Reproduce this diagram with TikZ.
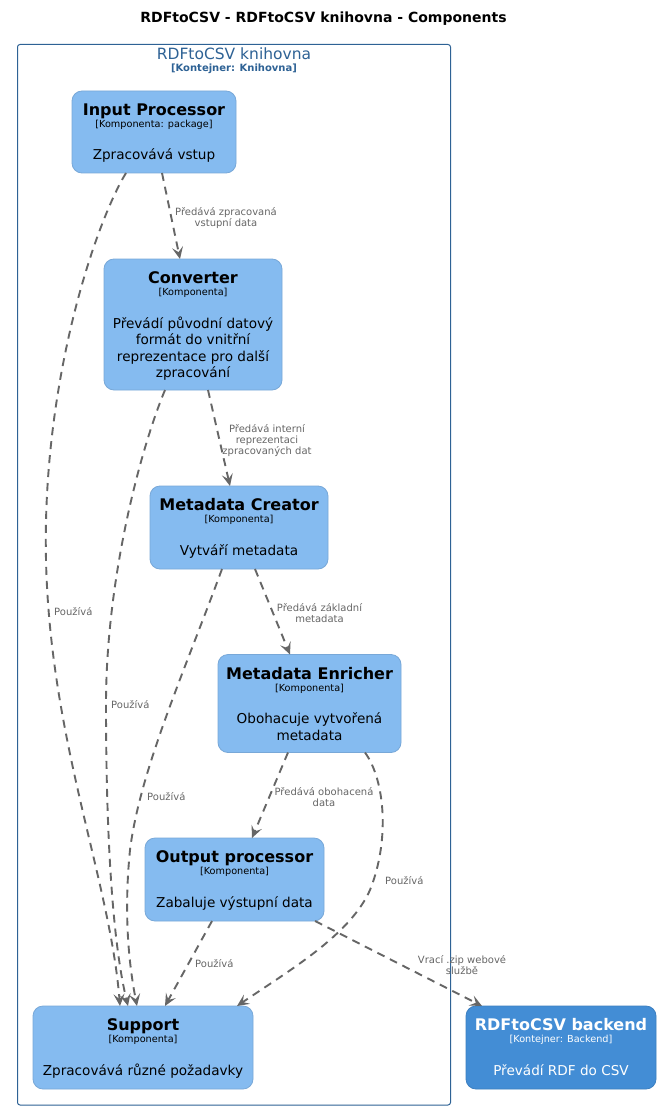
\documentclass[tikz,border=0pt]{standalone}
\usepackage{fontspec}
\setmainfont{DejaVu Sans}
\usetikzlibrary{arrows.meta,calc}

\definecolor{compfill}{HTML}{85BBF0}
\definecolor{compline}{HTML}{78A8D8}
\definecolor{extfill}{HTML}{438DD5}
\definecolor{extline}{HTML}{3C7FC0}
\definecolor{boundary}{HTML}{2E6295}
\definecolor{relcol}{HTML}{666666}

% multi-line centred text whose baseline is that of the first line
\newcommand\mlines[1]{\begin{tabular}[t]{@{}c@{}}#1\end{tabular}}

% title, type and description of a component box
\newcommand\boxtext[5]{%
  \node[titletext,text=#5] (#1-title) at ($(#1.north)+(0,24.5)$) {#2};
  \node[typetext,text=#5] (#1-type) at ($(#1.north)+(0,36.5)$) {#3};
  \node[desctext,text=#5] (#1-desc) at ($(#1.north)+(0,69)$) {\mlines{#4}};
}

\begin{document}
\begin{tikzpicture}[x=1pt,y=-1pt,
  comp/.style={draw=compline,fill=compfill,rounded corners=10pt,line width=0.8pt,inner sep=0pt,outer sep=0pt},
  extcomp/.style={draw=extline,fill=extfill,rounded corners=10pt,line width=0.8pt,inner sep=0pt,outer sep=0pt},
  titletext/.style={anchor=base,inner sep=0pt,font=\fontsize{16}{19}\selectfont\bfseries},
  typetext/.style={anchor=base,inner sep=0pt,font=\fontsize{9.7}{12}\selectfont},
  desctext/.style={anchor=base,inner sep=0pt,font=\fontsize{13.6}{16.5}\selectfont},
  rel/.style={draw=relcol,line width=1.9pt,dash pattern=on 8pt off 6pt,
    -{Stealth[length=12pt,width=11pt,inset=5pt]}},
  lbl/.style={anchor=base,inner sep=0pt,text=relcol,font=\fontsize{10}{11}\selectfont},
  lblw/.style={lbl,anchor=base west}]

% page
\path[use as bounding box,fill=white] (0,0) rectangle (661,1110);

% diagram title
\node[anchor=base,inner sep=0pt,font=\fontsize{14}{17}\selectfont\bfseries] (title) at (323.5,22.7)
  {RDFtoCSV - RDFtoCSV knihovna - Components};

% library container
\node[draw=boundary,line width=1pt,rounded corners=2.5pt,minimum width=433,minimum height=1060.5,
  inner sep=0pt] (lib) at (234,574.75) {};
\node[anchor=base,inner sep=0pt,text=boundary,font=\fontsize{15.5}{18}\selectfont] (lib-title)
  at (234,59.3) {RDFtoCSV knihovna};
\node[anchor=base,inner sep=0pt,text=boundary,font=\fontsize{10}{12}\selectfont\bfseries] (lib-type)
  at (234,72) {[Kontejner: Knihovna]};

% components
\node[comp,minimum width=164,minimum height=82] (ip) at (154,132) {};
\boxtext{ip}{Input Processor}{[Komponenta: package]}{Zpracovává vstup}{black}

\node[comp,minimum width=178,minimum height=131] (conv) at (193,324.5) {};
\boxtext{conv}{Converter}{[Komponenta]}{Převádí původní datový\\formát do vnitřní\\reprezentace pro další\\zpracování}{black}

\node[comp,minimum width=178,minimum height=83] (mc) at (239,527.5) {};
\boxtext{mc}{Metadata Creator}{[Komponenta]}{Vytváří metadata}{black}

\node[comp,minimum width=183,minimum height=98] (me) at (309.5,703.5) {};
\boxtext{me}{Metadata Enricher}{[Komponenta]}{Obohacuje vytvořená\\metadata}{black}

\node[comp,minimum width=179,minimum height=83] (op) at (234.5,879.5) {};
\boxtext{op}{Output processor}{[Komponenta]}{Zabaluje výstupní data}{black}

\node[comp,minimum width=220,minimum height=83] (sup) at (143,1047.5) {};
\boxtext{sup}{Support}{[Komponenta]}{Zpracovává různé požadavky}{black}

\node[extcomp,minimum width=190,minimum height=83] (be) at (561,1047.5) {};
\boxtext{be}{RDFtoCSV backend}{[Kontejner: Backend]}{Převádí RDF do CSV}{white}

% data flow along the processing chain
\draw[rel] ($(ip.south west)+(90,0)$) -- ($(conv.north west)+(76,0)$);
\node[lbl] (l-ip-conv) at (226,215) {\mlines{Předává zpracovaná\\vstupní data}};

\draw[rel] ($(conv.south west)+(104,0)$) -- ($(mc.north west)+(80,0)$);
\node[lbl] (l-conv-mc) at (267,432) {\mlines{Předává interní\\reprezentaci\\zpracovaných dat}};

\draw[rel] ($(mc.south west)+(105,0)$) -- ($(me.north west)+(72,0)$);
\node[lbl] (l-mc-me) at (319.5,611) {\mlines{Předává základní\\metadata}};

\draw[rel] ($(me.south west)+(70,0)$) -- ($(op.north west)+(107,0)$);
\node[lbl] (l-me-op) at (324,795) {\mlines{Předává obohacená\\data}};

\draw[rel] ($(op.south west)+(170,0)$) -- ($(be.north west)+(16,0)$);
\node[lbl] (l-op-be) at (462,963) {\mlines{Vrací .zip webové\\službě}};

% every component uses Support
\draw[rel] ($(ip.south west)+(54,0)$) .. controls (96,222) and (42,380) .. (46,560)
  .. controls (50,740) and (110,880) .. ($(sup.north west)+(87,0)$);
\node[lblw] (l-ip-sup) at (54,615.5) {Používá};

\draw[rel] ($(conv.south west)+(61,0)$) .. controls (140,450) and (106,580) .. (106,704)
  .. controls (106,830) and (112,940) .. ($(sup.north west)+(95,0)$);
\node[lblw] (l-conv-sup) at (111,708.5) {Používá};

\draw[rel] ($(mc.south west)+(72,0)$) .. controls (185,670) and (140,770) .. (130,850)
  .. controls (124,910) and (128,960) .. ($(sup.north west)+(104,0)$);
\node[lblw] (l-mc-sup) at (147,800) {Používá};

\draw[rel] ($(me.south west)+(147,0)$) .. controls (385,780) and (390,840) .. (370,890)
  .. controls (350,935) and (290,970) .. ($(sup.north west)+(204,0)$);
\node[lblw] (l-me-sup) at (385,884) {Používá};

\draw[rel] ($(op.south west)+(67,0)$) -- ($(sup.north west)+(132,0)$);
\node[lblw] (l-op-sup) at (195,967.5) {Používá};

\end{tikzpicture}
\end{document}
